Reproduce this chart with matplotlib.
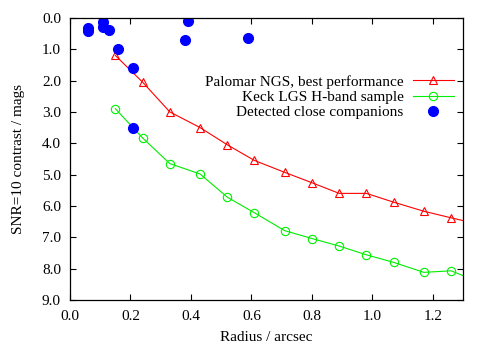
import matplotlib
matplotlib.use("Agg")
import matplotlib.pyplot as plt
from matplotlib.ticker import MultipleLocator, FormatStrFormatter

plt.rcParams['font.family'] = ['Liberation Serif', 'DejaVu Serif']
plt.rcParams['font.size'] = 11

# Palomar NGS, best performance (last point lies past the axis edge)
pal_r = [0.15, 0.24, 0.33, 0.43, 0.52, 0.61, 0.71, 0.80, 0.89, 0.98, 1.07, 1.17, 1.26, 1.35]
pal_c = [1.2, 2.05, 3.0, 3.5, 4.05, 4.55, 4.93, 5.26, 5.6, 5.6, 5.88, 6.17, 6.38, 6.58]
# Keck LGS H-band sample
keck_r = [0.15, 0.24, 0.33, 0.43, 0.52, 0.61, 0.71, 0.80, 0.89, 0.98, 1.07, 1.17, 1.26, 1.35]
keck_c = [2.9, 3.83, 4.65, 4.98, 5.72, 6.22, 6.79, 7.04, 7.28, 7.56, 7.8, 8.12, 8.07, 8.42]
# Detected close companions
comp_r = [0.058, 0.058, 0.11, 0.11, 0.13, 0.16, 0.21, 0.21, 0.38, 0.39, 0.59]
comp_c = [0.32, 0.42, 0.12, 0.28, 0.38, 0.99, 1.6, 3.5, 0.7, 0.1, 0.65]

fig = plt.figure(figsize=(4.86, 3.5), dpi=100)
ax = fig.add_axes([0.144, 0.143, 0.809, 0.806])

ax.plot(pal_r, pal_c, color='#ff0000', lw=0.8, marker='^', ms=6,
        mfc='none', mec='#ff0000', mew=0.8, label='Palomar NGS, best performance')
ax.plot(keck_r, keck_c, color='#00ee00', lw=0.8, marker='o', ms=6,
        mfc='none', mec='#00ee00', mew=0.8, label='Keck LGS H-band sample')
ax.plot(comp_r, comp_c, ls='none', marker='o', ms=7, color='#0000ff',
        label='Detected close companions')

ax.set_xlim(0, 1.3)
ax.set_ylim(9, 0)
ax.xaxis.set_major_locator(MultipleLocator(0.2))
ax.yaxis.set_major_locator(MultipleLocator(1.0))
ax.xaxis.set_major_formatter(FormatStrFormatter('%.1f'))
ax.yaxis.set_major_formatter(FormatStrFormatter('%.1f'))
ax.tick_params(direction='in', top=True, right=True, length=4, width=0.8)
ax.tick_params(axis='x', pad=7)
ax.tick_params(axis='y', pad=6.5)
for s in ax.spines.values():
    s.set_linewidth(0.9)

ax.set_xlabel('Radius / arcsec', labelpad=6)
ax.set_ylabel('SNR=10 contrast / mags', labelpad=12)

ax.legend(loc='upper right', bbox_to_anchor=(1.0, 0.83), frameon=False,
          markerfirst=False, handlelength=2.7, labelspacing=0.1,
          handletextpad=0.6, borderaxespad=0.2)

fig.savefig('out.png', dpi=100)
